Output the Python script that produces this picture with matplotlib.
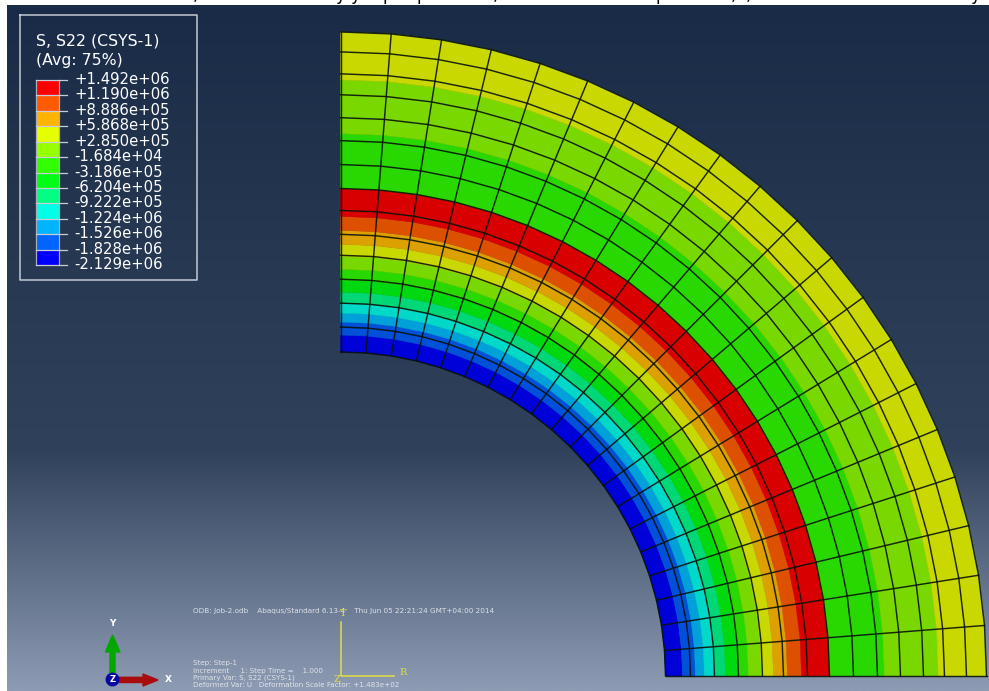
import numpy as np
import matplotlib
matplotlib.use('Agg')
import matplotlib.pyplot as plt

# mesh and contour data, radii measured from the model centre in picture pixels
layer_radii = [325, 350, 374, 398, 422, 443, 467, 489, 513, 537, 560, 583, 604, 626, 646]
n_sectors = 20
band_edges = [325, 342, 355, 364, 374, 385, 397, 408, 421, 433, 447, 461, 489, 544, 598, 646]
band_colors = ['#0000d8', '#0050d8', '#00a0d8', '#00d8c8', '#00d878', '#00d810', '#28d800', '#78d800',
               '#c8d800', '#dca000', '#dc5000', '#d80000', '#28d800', '#78d800', '#c8d800']

# legend
legend_title = ['S, S22 (CSYS-1)', '(Avg: 75%)']
legend_labels = ['+1.492e+06', '+1.190e+06', '+8.886e+05', '+5.868e+05', '+2.850e+05', '-1.684e+04', '-3.186e+05',
                 '-6.204e+05', '-9.222e+05', '-1.224e+06', '-1.526e+06', '-1.828e+06', '-2.129e+06']
legend_colors = ['#ff0000', '#ff5a00', '#ffb400', '#e6ff00', '#96ff00', '#32ff00', '#00ff14',
                 '#00ff82', '#00ffe6', '#00b4ff', '#0064ff', '#0000ff']

info_top = 'ODB: Job-2.odb    Abaqus/Standard 6.13-4    Thu Jun 05 22:21:24 GMT+04:00 2014'
info_lines = ['Step: Step-1', 'Increment     1: Step Time =    1.000', 'Primary Var: S, S22 (CSYS-1)',
              'Deformed Var: U   Deformation Scale Factor: +1.483e+02']
info_y = [662.5, 670.5, 677.5, 685]

cx, cy = 340.5, 676
y_scale = 0.997
angles = np.linspace(0, np.pi / 2, n_sectors + 1)

fig = plt.figure(figsize=(9.89, 6.91), dpi=100, facecolor='white')
ax = fig.add_axes([0, 0, 1, 1])

# viewport background
ys = np.arange(5, 692)
stop_y = [5, 280, 450, 691]
stops = np.array([[0x1a, 0x2b, 0x47], [0x28, 0x39, 0x53], [0x30, 0x41, 0x5b], [0x8d, 0x9b, 0xb3]]) / 255
grad = np.stack([np.interp(ys, stop_y, stops[:, k]) for k in range(3)], axis=1)[:, None, :]
ax.imshow(grad, extent=[7, 989, 691, 5], aspect='auto', interpolation='bilinear', zorder=0)


def ring(r):
    return cx + r * np.cos(angles), cy - y_scale * r * np.sin(angles)


# contour bands
for r0, r1, c in zip(band_edges[:-1], band_edges[1:], band_colors):
    x0, y0 = ring(r0)
    x1, y1 = ring(r1)
    ax.fill(np.r_[x0, x1[::-1]], np.r_[y0, y1[::-1]], color=c, lw=0.3, zorder=1)

# mesh
for r in layer_radii:
    x, y = ring(r)
    ax.plot(x, y, color='#0a1208', lw=1.05, alpha=0.9, zorder=2, solid_joinstyle='miter')
for a in angles:
    ax.plot(cx + np.array([layer_radii[0], layer_radii[-1]]) * np.cos(a),
            cy - y_scale * np.array([layer_radii[0], layer_radii[-1]]) * np.sin(a),
            color='#0a1208', lw=1.05, alpha=0.9, zorder=2)

# legend box
ax.plot([20, 197, 197, 20, 20], [14.5, 14.5, 280, 280, 14.5], color='#c4cad2', lw=1.1, zorder=3)
for i, line in enumerate(legend_title):
    ax.text(35.5, 41 + i * 19.5, line, color='white', fontsize=11.3, va='center', ha='left', zorder=4)
top, step = 80, 15.42
for i, c in enumerate(legend_colors):
    ax.fill_between([36, 59], top + i * step, top + (i + 1) * step, color=c, lw=0, zorder=3)
ax.plot([36, 36], [top, top + 12 * step], color='#a8aeb8', lw=0.9, zorder=4)
ax.plot([59, 59], [top, top + 12 * step], color='#a8aeb8', lw=0.9, zorder=4)
for i, lab in enumerate(legend_labels):
    yy = top + i * step
    ax.plot([36, 67], [yy, yy], color='#c8ccd4', lw=0.9, zorder=4)
    ax.text(74.5, yy - 0.5, lab, color='white', fontsize=10.7, va='center', ha='left', zorder=4)

# triad
ax.fill([110, 115, 115, 120, 112.5, 105.5, 110], [673, 673, 652, 652, 635, 652, 652], color='#00a800', zorder=3)
ax.fill([117, 143, 143, 158, 143, 143, 117], [677.3, 677.3, 674, 680, 686, 682.5, 682.5], color='#a80c0c', zorder=3)
ax.plot(112.3, 679.3, 'o', ms=9, color='#0808a0', zorder=4)
ax.text(112.3, 679.3, 'Z', color='white', fontsize=6, fontweight='bold', ha='center', va='center', zorder=5)
ax.text(112.3, 624, 'Y', color='white', fontsize=6.5, fontweight='bold', ha='center', va='center', zorder=4)
ax.text(168.3, 679.3, 'X', color='white', fontsize=6.5, fontweight='bold', ha='center', va='center', zorder=4)

# result csys
csys = '#e0e040'
ax.plot([340.7, 340.7, 394], [622, 675.5, 675.5], color=csys, lw=1.1, zorder=3)
ax.text(343, 614, 'T', color=csys, fontsize=7, family='DejaVu Serif', ha='center', va='center', zorder=4)
ax.text(402.7, 672.7, 'R', color=csys, fontsize=7, family='DejaVu Serif', ha='center', va='center', zorder=4)
ax.text(336.7, 679.3, 'Z', color=csys, fontsize=7, family='DejaVu Serif', ha='center', va='center', zorder=4)

# viewport info text
ax.text(193, 610.5, info_top, color='#f0f2f6', fontsize=5.2, va='center', ha='left', alpha=0.85, zorder=3)
for yy, line in zip(info_y, info_lines):
    ax.text(193, yy, line, color='#f0f2f6', fontsize=5.15, va='center', ha='left', alpha=0.85, zorder=3)

# bottoms of the line of text cropped off above the screenshot
for x, ch in [(195, ','), (340, 'y'), (355, 'y'), (388, 'p'), (422, 'p'), (495, ','), (661, 'p'), (733, ','), (748, ','), (975, 'y')]:
    ax.text(x, -0.5, ch, color='black', fontsize=12, va='baseline', ha='center', zorder=1, clip_on=True)

ax.set_xlim(0, 989)
ax.set_ylim(691, 0)
ax.axis('off')
fig.savefig('out.png', dpi=100, facecolor='white')
